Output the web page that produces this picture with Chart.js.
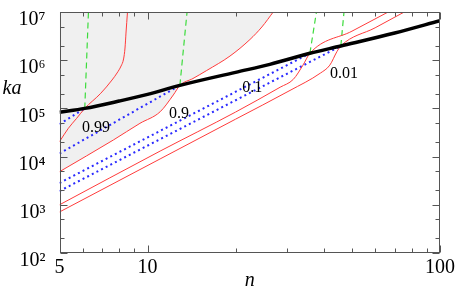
<!DOCTYPE html>
<html>
<head>
<meta charset="utf-8">
<script src="https://cdn.jsdelivr.net/npm/chart.js@4"></script>
<style>
html, body { margin: 0; padding: 0; background: #fff; }
#wrap { width: 457px; height: 290px; }
</style>
</head>
<body>
<div id="wrap"><canvas id="chart"></canvas></div>
<script>
// axis ticks
const xMajor = [5, 10, 100];
const xMinor = [6, 7, 8, 9, 20, 30, 40, 50, 60, 70, 80, 90];
const yMajor = [1e2, 1e3, 1e4, 1e5, 1e6, 1e7];
const yMinor = [2e2, 5e2, 2e3, 5e3, 2e4, 5e4, 2e5, 5e5, 2e6, 5e6];

// thick bound line
const blackN = [5, 6.1, 8, 10, 12.9, 20, 26.2, 35.9, 45.8, 70, 100];
const blackKa = [8.3e4, 1.0e5, 1.42e5, 1.95e5, 3.0e5, 5.6e5, 8.2e5, 1.39e6, 1.97e6, 3.66e6, 6.6e6];

// red curves
const red99N = [5, 5.36, 5.72, 6.1, 6.92, 7.56, 7.865, 8.12, 8.28, 8.375, 8.44, 8.54];
const red99Ka = [2.04e4, 3.86e4, 6.2e4, 1.0e5, 2.06e5, 3.88e5, 5.42e5, 7.59e5, 1.06e6, 1.79e6, 3.66e6, 1e7];
const red90N = [5, 7.64, 9.42, 11.04, 12.25, 12.9, 14.3, 15.93, 19.14, 22.4, 24.6, 26.9];
const red90Ka = [4.86e3, 2.21e4, 4.9e4, 8.5e4, 1.9e5, 3.0e5, 4.17e5, 6.11e5, 1.22e6, 2.69e6, 4.89e6, 1e7];
const red10N = [5, 11.04, 20, 28.4, 31.5, 34, 35.9, 50, 66.5];
const red10Ka = [1.0e3, 1.3e4, 8.4e4, 2.75e5, 4.0e5, 7.9e5, 1.39e6, 4.0e6, 1e7];
const red01N = [5, 11.04, 20, 30.7, 39, 42, 44.4, 45.8, 60, 75.5];
const red01Ka = [710, 8.95e3, 5.98e4, 2.36e5, 5.4e5, 7.9e5, 1.5e6, 1.97e6, 4.7e6, 1e7];

// blue dotted lines
const blue99N = [5, 6.1];
const blue99Ka = [4.7e4, 1.0e5];
const blue90N = [5, 12.9];
const blue90Ka = [1.16e4, 3.0e5];
const blue10N = [5, 35.9];
const blue10Ka = [2.83e3, 1.39e6];
const blue01N = [5, 45.8];
const blue01Ka = [1.93e3, 1.97e6];

// green dashed lines
const green99N = [6.1, 6.28];
const green99Ka = [1.0e5, 1e7];
const green90N = [12.9, 13.65];
const green90Ka = [3.0e5, 1e7];
const green10N = [35.9, 37.8];
const green10Ka = [1.39e6, 1e7];
const green01N = [45.8, 46.96];
const green01Ka = [1.97e6, 1e7];

// curve labels
const curveLabels = ["0.99", "0.9", "0.1", "0.01"];
const labelN = [6.67, 12.8, 22.8, 47.0];
const labelKa = [4.0e4, 7.66e4, 2.65e5, 5.2e5];

const pts = (xs, ys) => xs.map((v, i) => ({ x: v, y: ys[i] }));
const sup = { "0": "⁰", "1": "¹", "2": "²", "3": "³", "4": "⁴", "5": "⁵", "6": "⁶", "7": "⁷", "8": "⁸", "9": "⁹" };
const serif = "'Liberation Serif', 'Times New Roman', serif";

const red = "#ff3b3b";
const blue = "#2a2aff";
const green = "#3cdc3c";

function redLine(xs, ys, extra) {
    return Object.assign({
        data: pts(xs, ys), borderColor: red, borderWidth: 1,
        cubicInterpolationMode: "monotone", fill: false
    }, extra || {});
}
function blueLine(xs, ys) {
    return { data: pts(xs, ys), borderColor: blue, borderWidth: 2, borderDash: [2, 3.2], fill: false };
}
function greenLine(xs, ys) {
    return { data: pts(xs, ys), borderColor: green, borderWidth: 1.2, borderDash: [6, 4], fill: false };
}

const decor = {
    id: "decor",
    afterDatasetsDraw(chart) {
        const { ctx, chartArea: a, scales: { x, y } } = chart;
        const L = Math.round(a.left) + 0.5, R = Math.round(a.right) - 0.5;
        const T = Math.round(a.top) + 0.5, B = Math.round(a.bottom) - 0.5;
        ctx.save();
        ctx.strokeStyle = "#555";
        ctx.lineWidth = 1;
        ctx.strokeRect(L, T, R - L, B - T);
        ctx.beginPath();
        const xt = (v, len) => {
            const p = Math.round(x.getPixelForValue(v)) + 0.5;
            ctx.moveTo(p, B); ctx.lineTo(p, B - len);
            ctx.moveTo(p, T); ctx.lineTo(p, T + len);
        };
        const yt = (v, len) => {
            const p = Math.round(y.getPixelForValue(v)) + 0.5;
            ctx.moveTo(L, p); ctx.lineTo(L + len, p);
            ctx.moveTo(R, p); ctx.lineTo(R - len, p);
        };
        xMajor.forEach(v => xt(v, 7));
        xMinor.forEach(v => xt(v, 4));
        yMajor.forEach(v => yt(v, 7));
        yMinor.forEach(v => yt(v, 4));
        ctx.stroke();

        ctx.fillStyle = "#000";
        ctx.textAlign = "center";
        ctx.textBaseline = "middle";
        ctx.font = "16px " + serif;
        curveLabels.forEach((t, i) => {
            ctx.fillText(t, x.getPixelForValue(labelN[i]), y.getPixelForValue(labelKa[i]));
        });
        ctx.font = "italic 20px " + serif;
        ctx.fillText("ka", 12, 89);
        ctx.restore();
    }
};

new Chart(document.getElementById("chart"), {
    type: "scatter",
    data: {
        datasets: [
            { data: pts(blackN, blackKa), borderColor: "#000", borderWidth: 3.5, cubicInterpolationMode: "monotone", fill: false },
            redLine(red99N, red99Ka),
            redLine(red90N, red90Ka, { fill: "end", backgroundColor: "#f0f0f0" }),
            redLine(red10N, red10Ka),
            redLine(red01N, red01Ka),
            blueLine(blue99N, blue99Ka),
            blueLine(blue90N, blue90Ka),
            blueLine(blue10N, blue10Ka),
            blueLine(blue01N, blue01Ka),
            greenLine(green99N, green99Ka),
            greenLine(green90N, green90Ka),
            greenLine(green10N, green10Ka),
            greenLine(green01N, green01Ka)
        ]
    },
    options: {
        responsive: true,
        maintainAspectRatio: false,
        animation: false,
        devicePixelRatio: 1,
        showLine: true,
        clip: 0,
        elements: { point: { radius: 0, hoverRadius: 0 } },
        layout: { padding: { left: 0, top: 12, right: 17, bottom: 0 } },
        plugins: {
            legend: { display: false },
            tooltip: { enabled: false },
            filler: { drawTime: "beforeDatasetsDraw" }
        },
        scales: {
            x: {
                type: "logarithmic",
                min: 5,
                max: 100,
                afterBuildTicks: s => { s.ticks = xMajor.map(v => ({ value: v })); },
                afterFit: s => { s.height = 37; s.paddingLeft = 0; s.paddingRight = 0; },
                grid: { display: false },
                border: { display: false },
                ticks: {
                    callback: v => String(v),
                    font: { family: serif, size: 20 },
                    color: "#000",
                    padding: -5,
                    maxRotation: 0,
                    autoSkip: false
                },
                title: {
                    display: true,
                    text: "n",
                    font: { family: serif, size: 20, style: "italic" },
                    color: "#000",
                    padding: { top: 0, bottom: -3 }
                }
            },
            y: {
                type: "logarithmic",
                min: 1e2,
                max: 1e7,
                afterBuildTicks: s => { s.ticks = yMajor.map(v => ({ value: v })); },
                afterFit: s => { s.width = 59.5; s.paddingTop = 0; s.paddingBottom = 0; },
                grid: { display: false },
                border: { display: false },
                ticks: {
                    callback: v => "10" + String(Math.round(Math.log10(v))).split("").map(c => sup[c]).join(""),
                    font: { family: serif, size: 20 },
                    color: "#000",
                    padding: 6,
                    labelOffset: 8,
                    autoSkip: false
                }
            }
        }
    },
    plugins: [decor]
});
</script>
</body>
</html>
